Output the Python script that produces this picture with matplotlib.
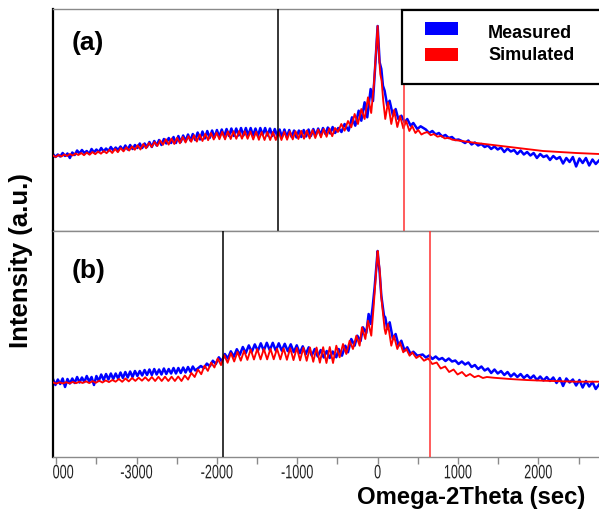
import matplotlib

matplotlib.use("Agg")

import matplotlib.pyplot as plt
import numpy as np
from matplotlib.patches import Rectangle
from matplotlib.patheffects import AbstractPathEffect
from matplotlib.transforms import Affine2D, ScaledTranslation

# Intensity values (arbitrary units, log-like scale).
# "far" blocks are sampled on an even grid between the two given x limits.

# ---- panel (a) ----
A_MEAS_FAR_X = (-4040, -530)
A_MEAS_FAR = [
    77, 74, 76.5, 74.5, 78, 75, 77.5, 73, 78.5, 76,
    80.5, 77.5, 81, 78, 80, 77, 82, 78.5, 81.5, 79,
    83, 79.5, 82.5, 80, 84, 80.5, 83.5, 81, 84.5, 81,
    85.5, 81.5, 86, 82, 86, 83, 87.5, 83, 87.5, 84,
    89, 84, 90, 85.5, 91, 86, 92, 87.5, 93, 88,
    94, 88, 95, 89, 95.5, 90, 96.5, 90.5, 97, 91,
    98.5, 91.5, 99.5, 92.5, 100, 93, 100.5, 93.5, 101, 94,
    101.5, 94.5, 102, 95, 102.5, 95, 102.5, 95.5, 103, 95.5,
    103, 95.5, 103, 95.5, 102.5, 95, 103, 96, 103, 95.5,
    102.5, 95, 102, 95, 101.5, 94, 101.5, 94, 101, 94,
    100.5, 93.5, 100.5, 94, 101, 94.5, 101.5, 95, 102, 95.5,
    102.5, 96, 103, 97, 103.5, 97.5, 104, 98,
]
A_MEAS_PEAK_X = [
    -490, -450, -411, -361, -319, -278, -236, -203, -162, -129,
    -87, -58, -30, -12, 0, 12, 25, 46, 66, 87,
    120, 149, 191, 224, 257, 295, 336, 369, 411, 444,
    494, 535,
]
A_MEAS_PEAK = [
    103, 99, 107, 100.3, 113.7, 105.3, 120.3, 110.3, 128.7, 113.7,
    142, 130, 165, 190, 205, 188, 168.7, 162, 145.3, 140.3,
    125.3, 130.3, 115.3, 122, 112, 115.3, 108.7, 112, 105.3, 108,
    102, 104.7,
]
A_MEAS_TAIL_X = (600, 2755)
A_MEAS_TAIL = [
    101.5, 98, 100, 96.5, 98, 94.5, 96, 93, 94, 91, 91.5,
    90, 88, 90.5, 86.5, 88.5, 85.5, 87, 84, 85.5, 82,
    84.5, 81.5, 83.5, 79, 82.5, 79.5, 81, 77, 80.5, 76.5,
    79, 75.5, 78, 73, 77, 74, 75.5, 71, 75, 72,
    74, 67.5, 73, 69, 74, 64.5, 72.5, 68, 73, 65.5, 71.5, 67, 70.5,
]

A_SIM_FAR_X = (-4040, -530)
A_SIM_FAR = [
    75.5, 74, 76, 74.5, 76.5, 75, 77, 75.5, 77.5, 76,
    78, 75.8, 78.5, 76.3, 79, 76.8, 79.5, 77.3, 80, 77.8,
    81.2, 78, 82, 78.8, 83, 79.6, 83.8, 80.4, 84.6, 81.2,
    85.8, 81.5, 87, 82.7, 88, 84, 89, 85, 90.5, 86.2,
    91.8, 86.4, 92.5, 87, 93.2, 87.7, 94, 88.5, 94.8, 89.2,
    95.8, 89.4, 96.5, 90, 97.2, 90.8, 98, 91.5, 98.4, 91.8,
    99.2, 91.6, 99.6, 92, 99.8, 92.2, 100, 92.3, 99.8, 92.2,
    99.5, 91.5, 99.3, 91.2, 99, 91, 99, 91, 99, 91,
    99, 91, 99.2, 91.3, 99.5, 91.6, 99.8, 92, 100.2, 92.3,
    100.5, 92.5, 101, 93, 101.5, 93.6, 102, 94.2, 102.6, 94.8,
    103,
]
A_SIM_PEAK_X = [
    -494, -452, -411, -369, -328, -286, -245, -203, -162, -120,
    -80, -45, -20, 0, 12, 25, 33, 50, 70, 95,
    129, 170, 205, 245, 280, 320, 355, 395, 430, 470,
    505, 545, 580,
]
A_SIM_PEAK = [
    99, 107, 100.3, 110, 103.7, 117, 107, 122, 112, 133.7,
    118, 148, 180, 205, 185, 166, 157, 150, 130, 112,
    128.7, 107, 121, 104, 115, 102.5, 110, 100, 105, 98,
    101, 96.5, 98,
]
A_SIM_TAIL_X = [620, 660, 700, 745, 790, 835, 880, 930, 1000, 1228, 1440, 1643, 1850, 2058, 2270, 2473, 2755]
A_SIM_TAIL = [99, 95.8, 97, 94.3, 95.2, 92.6, 93.2, 91.3, 90.5, 88, 86, 84, 82, 80, 79, 78, 77]

# ---- panel (b) ----
B_MEAS_FAR_X = (-4040, -2270)
B_MEAS_FAR = [
    78, 72, 77.5, 73, 78.5, 70, 78, 73.5, 78.5, 74,
    80, 74.5, 79.5, 75, 81, 75.5, 80, 72, 81, 76,
    82.5, 77, 83, 77.5, 83.5, 78, 83.5, 78.5, 84.5, 79,
    85, 79.5, 85.5, 80, 86, 81, 86, 81.5, 87, 82,
    87.5, 82, 88, 82.5, 87.5, 82.5, 88.5, 83, 88, 83.5,
    89, 83.5, 89, 84, 89.5, 84.5, 90, 85, 90.5, 86.5,
]
B_MEAS_FRINGE_X = (-2200, -559)
B_MEAS_FRINGE = [
    91, 88.8, 93.4, 90.7, 96.3, 93, 99.7, 95.6, 103, 98.5,
    105.7, 100.3, 107.8, 102.2, 110, 104, 111.6, 105, 112.6, 106,
    113.7, 106.3, 114.2, 106.8, 114.2, 106.3, 113.7, 106.3, 113.2, 105.8,
    112.7, 104.8, 111.7, 103.8, 110.7, 102.8, 109.7, 101.3, 108, 100.5,
    107, 99.5, 106, 99, 105.5,
]
B_MEAS_PEAK_X = [
    -514, -485, -444, -402, -369, -328, -286, -253, -212, -183,
    -141, -112, -88, -62, -37, -15, 0, 12, 25, 46,
    79, 95, 120, 150, 190, 224, 261, 295, 336, 369,
    411, 444, 494, 530,
]
B_MEAS_PEAK = [
    99.7, 108, 101.3, 111.3, 104.7, 118, 111.3, 121.3, 116, 129.7,
    124, 143, 133, 150, 170, 192, 206, 195, 184.7, 161.3,
    141.3, 139.7, 128, 134.7, 118, 123, 111.3, 116.3, 106.3, 109.7,
    103, 105.3, 101.3, 102,
]
B_MEAS_TAIL_X = (560, 2755)
B_MEAS_TAIL = [
    102.5, 99.5, 101.5, 98, 100.5, 97.5, 99, 96, 98.5, 95.5,
    96.5, 93, 95.5, 92.5, 94.5, 90, 92, 88, 90.5, 86.5,
    88.5, 84, 87.5, 83.5, 86, 82, 85, 80.5, 83.5, 80,
    83, 79, 82, 78.5, 81.5, 77, 80.5, 76.5, 80, 76,
    79.5, 74, 79, 71, 78.5, 74.5, 77.5, 71.5, 77, 69.5, 76, 70.5, 75, 68, 72.5,
]

B_SIM_FAR_X = (-4040, -555)
B_SIM_FAR = [
    74.6, 73.4, 74.7, 73.5, 74.8, 73.6, 75, 73.8, 75.3, 74,
    75.7, 73.9, 75.9, 74.2, 76.3, 74.5, 76.6, 74.9, 77, 75.3,
    78, 75.2, 78.5, 75.6, 79, 76.1, 79.3, 76.3, 79.7, 76.2,
    80, 76, 80.2, 76, 80.3, 76, 80.3, 76, 80.5, 76,
    81.5, 77.4, 84.1, 80, 87.5, 82.8, 91.3, 86.1, 94.5, 89.5,
    98.5, 91.9, 101.7, 94.2, 103.9, 95.5, 105.1, 96.3, 106.3, 97.1,
    107.5, 97.5, 108, 97.6, 108.1, 97.6, 108.2, 97.7, 108.3, 97.6,
    108.7, 97.2, 108.9, 96.9, 109.1, 96.6, 109.3, 96.2, 109.5, 95.2,
    109.5, 94.3, 109.8, 94, 110, 94,
]
B_SIM_PEAK_X = [
    -514, -473, -431, -390, -348, -307, -265, -224, -195, -153,
    -120, -79, -50, -25, 0, 12, 25, 46, 66, 87,
    100, 129, 170, 203, 245, 278, 319, 357, 398, 431,
    481, 523, 577,
]
B_SIM_PEAK = [
    111.3, 99.7, 113, 103, 116.3, 108, 121.3, 111.3, 129.7, 118,
    136.3, 121.3, 150, 178, 206, 196, 188, 159.7, 144.7, 128,
    123, 133, 111.3, 121.3, 108, 114.7, 104.7, 108, 101.3, 104.7,
    99, 101.3, 96.3,
]
B_SIM_TAIL_X = [630, 680, 735, 785, 840, 890, 945, 995, 1050, 1100, 1150,
                1205, 1255, 1310, 1360, 1440, 1643, 1850, 2058, 2270, 2473, 2755]
B_SIM_TAIL = [98.5, 93, 94.5, 88.5, 90.5, 85, 87.5, 82.5, 85, 80.8, 83,
              79.8, 81.3, 79, 80, 79.3, 78, 77, 76.3, 75.8, 75.3, 75.3]

# marker lines (sec)
A_BLACK_LINE, A_RED_LINE = -1240, 332
B_BLACK_LINE, B_RED_LINE = -1928, 652

X_TICKS = [-4000, -3000, -2000, -1000, 0, 1000, 2000]
X_TICK_LABELS = ["000", "-3000", "-2000", "-1000", "0", "1000", "2000"]
X_MINOR_TICKS = [-3500, -2500, -1500, -500, 500, 1500, 2500]

MEAS_COLOR = "#0000ff"
SIM_COLOR = "#ff0000"
GRAY = "#8a8a8a"
FONT = ["Liberation Sans", "DejaVu Sans"]

W, H = 599, 510
FIRST_LABEL_SHIFT = -3.6  # px, the clipped "-4000" label starts at the axis


class SqueezeX(AbstractPathEffect):
    """Narrow the glyphs horizontally around the tick position."""

    def __init__(self, ax, x, factor, shift=0.0):
        super().__init__()
        self.ax, self.x, self.factor, self.shift = ax, x, factor, shift

    def draw_path(self, renderer, gc, tpath, affine, rgbFace=None):
        cx = self.ax.transData.transform((self.x, 0))[0] + self.shift
        squeeze = Affine2D().translate(-cx, 0).scale(self.factor, 1).translate(cx, 0)
        renderer.draw_path(gc, tpath, affine + squeeze, rgbFace)


def fx(px):
    return px / W


def fy(py):
    return 1 - py / H


def even(limits, values):
    return np.linspace(limits[0], limits[1], len(values)), np.asarray(values, float)


def join(*parts):
    xs = np.concatenate([np.asarray(p[0], float) for p in parts])
    ys = np.concatenate([np.asarray(p[1], float) for p in parts])
    return xs, ys


def draw_panel(ax, meas, sim, black_x, red_x, ymax, tag, tag_y):
    ax.plot(*meas, color=MEAS_COLOR, lw=1.8, zorder=2)
    ax.plot(*sim, color=SIM_COLOR, lw=1.35, zorder=3)
    ax.axvline(black_x, color="black", lw=1.1, zorder=4)
    ax.axvline(red_x, color="#ff3030", lw=1.1, zorder=4)
    ax.set_xlim(-4040, 2755)
    ax.set_ylim(0, ymax)
    ax.set_yticks([])
    ax.spines["right"].set_visible(False)
    ax.spines["left"].set_color("black")
    ax.spines["left"].set_linewidth(1.6)
    for side in ("top", "bottom"):
        ax.spines[side].set_color(GRAY)
        ax.spines[side].set_linewidth(1.0)
    ax.text(fx(72), fy(tag_y), tag, transform=ax.figure.transFigure,
            fontsize=19, fontweight="bold", family=FONT, va="baseline")


fig = plt.figure(figsize=(W / 100, H / 100), dpi=100)
ax_a = fig.add_axes([fx(53), fy(232), fx(546), 222 / H])
ax_b = fig.add_axes([fx(53), fy(458), fx(546), 226 / H])

meas_a = join(even(A_MEAS_FAR_X, A_MEAS_FAR), (A_MEAS_PEAK_X, A_MEAS_PEAK),
              even(A_MEAS_TAIL_X, A_MEAS_TAIL))
sim_a = join(even(A_SIM_FAR_X, A_SIM_FAR), (A_SIM_PEAK_X, A_SIM_PEAK),
             (A_SIM_TAIL_X, A_SIM_TAIL))
meas_b = join(even(B_MEAS_FAR_X, B_MEAS_FAR), even(B_MEAS_FRINGE_X, B_MEAS_FRINGE),
              (B_MEAS_PEAK_X, B_MEAS_PEAK), even(B_MEAS_TAIL_X, B_MEAS_TAIL))
sim_b = join(even(B_SIM_FAR_X, B_SIM_FAR), (B_SIM_PEAK_X, B_SIM_PEAK),
             (B_SIM_TAIL_X, B_SIM_TAIL))

draw_panel(ax_a, meas_a, sim_a, A_BLACK_LINE, A_RED_LINE, 222, "(a)", 50)
draw_panel(ax_b, meas_b, sim_b, B_BLACK_LINE, B_RED_LINE, 226, "(b)", 278)

ax_a.tick_params(axis="x", bottom=False, labelbottom=False)
ax_b.set_xticks(X_TICKS, X_TICK_LABELS)
ax_b.set_xticks(X_MINOR_TICKS, minor=True)
ax_b.tick_params(axis="x", which="both", direction="out", length=5, width=1,
                 color=GRAY, pad=1, labelsize=14, labelcolor="#222222")
for i, (tick, label) in enumerate(zip(X_TICKS, ax_b.get_xticklabels())):
    label.set_family(FONT)
    shift = FIRST_LABEL_SHIFT if i == 0 else 0.0
    label.set_path_effects([SqueezeX(ax_b, tick, 0.65, shift)])
first = ax_b.get_xticklabels()[0]
first.set_horizontalalignment("left")
first.set_transform(first.get_transform()
                    + ScaledTranslation(FIRST_LABEL_SHIFT / 100, 0, fig.dpi_scale_trans))

# legend box, partly running off the right edge like the original
fig.add_artist(Rectangle((fx(402), fy(85)), fx(260), 74 / H, transform=fig.transFigure,
                         facecolor="white", edgecolor="black", lw=1.6, zorder=10))
fig.add_artist(Rectangle((fx(425), fy(36)), fx(33), 13 / H, transform=fig.transFigure,
                         facecolor=MEAS_COLOR, edgecolor="none", zorder=11))
fig.add_artist(Rectangle((fx(425), fy(62)), fx(33), 13 / H, transform=fig.transFigure,
                         facecolor=SIM_COLOR, edgecolor="none", zorder=11))
fig.text(fx(488), fy(38), "Measured", fontsize=13, fontweight="bold", family=FONT,
         va="baseline", zorder=12)
fig.text(fx(488), fy(60), "Simulated", fontsize=13, fontweight="bold", family=FONT,
         va="baseline", zorder=12)

fig.text(fx(21), fy(261), "Intensity (a.u.)", rotation=90, fontsize=18.5,
         fontweight="bold", family=FONT, ha="center", va="center")
fig.text(fx(471), fy(498), "Omega-2Theta (sec)", fontsize=17.2,
         fontweight="bold", family=FONT, ha="center", va="center")

fig.savefig("out.png", dpi=100)
plt.close(fig)
